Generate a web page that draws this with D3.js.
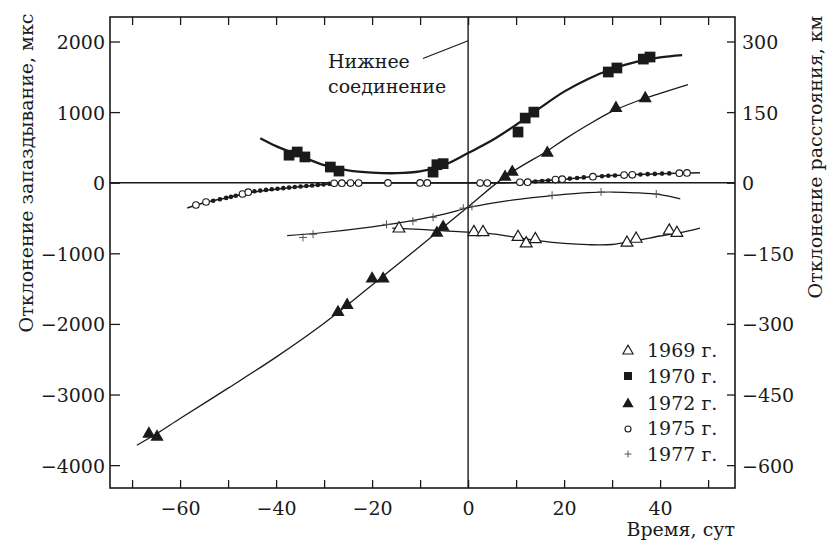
<!DOCTYPE html>
<html><head><meta charset="utf-8">
<script src="https://cdn.jsdelivr.net/npm/d3@7/dist/d3.min.js"></script>
<style>
body{margin:0;background:#fff;}
svg{display:block;}
text{font-family:"DejaVu Serif","Liberation Serif",serif;fill:#1a1a1a;}
</style></head>
<body><svg id="c" width="827" height="540"></svg>
<script>
// ---------- data ----------
const xTicks = [-70,-60,-50,-40,-30,-20,-10,0,10,20,30,40,50];
const xTickLabels = [-60,-40,-20,0,20,40];
const yLeftTicks = [-4000,-3000,-2000,-1000,0,1000,2000];
const yRightTicks = [-600,-450,-300,-150,0,150,300];
const years = ["1969 г.","1970 г.","1972 г.","1975 г.","1977 г."];

const p1969x = [-14.4,1.2,3.1,10.4,12.1,14.0,33.1,35.0,41.9,43.5];
const p1969y = [-650,-700,-700,-770,-860,-800,-850,-795,-680,-713];
const c1969x = [-15.8,-10,-5,0,5,10,15,20,25,30,35,40,45,48.3];
const c1969y = [-642,-662,-682,-700,-725,-775,-825,-860,-878,-875,-820,-755,-695,-642];

const p1970x = [-37.3,-35.6,-34.0,-28.7,-26.9,-7.3,-6.5,-5.2,10.4,11.9,13.7,29.2,31.0,36.5,37.9];
const p1970y = [390,435,365,222,165,150,255,270,718,915,1000,1568,1625,1751,1780];
const c1970x = [-43.3,-40,-35,-30,-25,-20,-15,-10,-5,0,5,10,15,20,25,30,35,40,44.6];
const c1970y = [630,518,380,250,175,143,135,160,250,420,600,820,1060,1290,1470,1610,1710,1775,1808];

const p1972x = [-66.5,-64.8,-27.1,-25.2,-20.0,-17.7,-6.5,-5.2,7.7,9.2,16.5,30.8,36.9];
const p1972y = [-3557,-3600,-1835,-1735,-1360,-1360,-713,-627,81,152,421,1057,1195];
const c1972x = [-69,-65,-60,-50,-40,-30,-20,-10,0,8,16.5,20,25,30,35,40,45.8];
const c1972y = [-3718,-3560,-3340,-2910,-2470,-1990,-1450,-900,-340,100,450,610,820,1010,1150,1265,1390];

const p1975x = [-56.7,-54.6,-47.0,-45.8,-27.9,-26.3,-24.5,-22.8,-16.7,-10.0,-8.5,2.5,4.0,10.8,12.4,18.2,19.6,26.0,32.5,34.2,44.0,45.6];
const p1975y = [-316,-273,-160,-134,-8,-6,-5,-5,-3,-3,-3,-5,-5,5,8,45,50,85,108,112,135,138];
const d1975x = [-53.1,-51.7,-50.4,-49.4,-48.4,-44.5,-43.3,-42.1,-40.9,-39.7,-38.5,-37.3,-36.1,-34.9,-33.7,-32.5,-31.3,-30.1,-28.9,14.0,15.4,16.7,21.2,22.7,24.1,27.9,29.2,30.6,35.9,37.4,38.9,40.4,41.9];
const d1975y = [-255,-235,-215,-200,-185,-122,-112,-102,-93,-85,-77,-69,-61,-53,-46,-39,-31,-24,-16,18,25,32,58,66,75,92,98,103,116,121,125,129,132];
const c1975x = [-58.5,-55,-50,-45,-40,-35,-30,-27,-20,-10,0,5,10,15,20,25,30,35,40,45,48.3];
const c1975y = [-358,-285,-210,-135,-92,-58,-24,-6,-3,-3,-5,-4,4,28,50,80,101,115,127,137,140];

const p1977x = [-34.4,-32.3,-17.0,-11.5,-7.3,-1.0,0.8,17.5,27.7,39.2];
const p1977y = [-775,-730,-590,-545,-490,-360,-335,-178,-131,-160];
const c1977x = [-37.7,-30,-20,-15,-10,-5,0,5,10,15,20,25,30,35,40,44.2];
const c1977y = [-750,-705,-625,-575,-515,-445,-355,-290,-240,-200,-165,-140,-132,-143,-170,-230];

const noteLines = ["Нижнее","соединение"];
const noteX = [-9.4,0];
const noteY = [1760,2010];

// ---------- layout ----------
const L=110,R=735,T=17,B=488;
const ink="#1a1a1a";
const FS=19;
const svg=d3.select("#c");
const x=d3.scaleLinear().domain([-74.6,55.6]).range([L,R]);
const y=d3.scaleLinear().domain([-4324,2347]).range([B,T]);
const y2=d3.scaleLinear().domain([-4324*0.15,2347*0.15]).range([B,T]);

const zip=(a,b)=>a.map((v,i)=>[v,b[i]]);

// frame
svg.append("rect").attr("x",L).attr("y",T).attr("width",R-L).attr("height",B-T)
  .attr("fill","none").attr("stroke",ink).attr("stroke-width",1.6);

// axes with inward ticks
function styleAxis(g){g.select(".domain").remove();g.selectAll(".tick line").attr("stroke",ink).attr("stroke-width",1.3);}
function styleText(g){g.selectAll(".tick text").attr("dy",0).attr("font-size",FS).attr("font-family","DejaVu Serif, Liberation Serif, serif").attr("fill",ink);}
const fmt=d3.format("d");
const gB=svg.append("g").attr("transform",`translate(0,${B})`)
  .call(d3.axisBottom(x).tickValues(xTicks).tickSize(-8).tickFormat(d=>xTickLabels.includes(d)?fmt(d):""));
styleAxis(gB); styleText(gB);
gB.selectAll(".tick text").attr("y",27);
const gT=svg.append("g").attr("transform",`translate(0,${T})`)
  .call(d3.axisTop(x).tickValues(xTicks).tickSize(-8).tickFormat(""));
styleAxis(gT);
const gL=svg.append("g").attr("transform",`translate(${L},0)`)
  .call(d3.axisLeft(y).tickValues(yLeftTicks).tickSize(-10).tickFormat(fmt));
styleAxis(gL); styleText(gL);
gL.selectAll(".tick text").attr("x",-5).attr("y",7);
const gR=svg.append("g").attr("transform",`translate(${R},0)`)
  .call(d3.axisRight(y2).tickValues(yRightTicks).tickSize(-8).tickFormat(fmt));
styleAxis(gR); styleText(gR);
gR.selectAll(".tick text").attr("x",7).attr("y",7);

// zero lines
svg.append("line").attr("x1",L).attr("x2",R).attr("y1",y(0)).attr("y2",y(0)).attr("stroke",ink).attr("stroke-width",1.4);
svg.append("line").attr("x1",x(0)).attr("x2",x(0)).attr("y1",T).attr("y2",B).attr("stroke",ink).attr("stroke-width",1.4);

// axis titles
svg.append("text").attr("transform",`translate(33,173) rotate(-90)`).attr("text-anchor","middle")
  .attr("font-size",FS).text("Отклонение запаздывание, мкс");
svg.append("text").attr("transform",`translate(822,157) rotate(-90)`).attr("text-anchor","middle")
  .attr("font-size",FS).text("Отклонение расстояния, км");
svg.append("text").attr("x",R).attr("y",536).attr("text-anchor","end").attr("font-size",FS).text("Время, сут");

// curves
const line=d3.line().x(d=>x(d[0])).y(d=>y(d[1])).curve(d3.curveCatmullRom.alpha(0.5));
function curve(xs,ys,w){svg.append("path").attr("d",line(zip(xs,ys))).attr("fill","none").attr("stroke",ink).attr("stroke-width",w);}
curve(c1969x,c1969y,1.3);
curve(c1977x,c1977y,1.2);
curve(c1975x,c1975y,1.5);
curve(c1972x,c1972y,1.3);
curve(c1970x,c1970y,2.3);

// markers
const sym={
  tri:(s)=>d3.symbol().type(d3.symbolTriangle).size(s)(),
  sq:(s)=>d3.symbol().type(d3.symbolSquare).size(s)()
};
function markers(xs,ys,kind){
  const g=svg.append("g");
  zip(xs,ys).forEach(([a,b])=>{
    const cx=x(a),cy=y(b);
    if(kind==="otri") g.append("path").attr("d",sym.tri(60)).attr("transform",`translate(${cx},${cy})`).attr("fill","#fff").attr("stroke",ink).attr("stroke-width",1.2);
    if(kind==="ftri") g.append("path").attr("d",sym.tri(75)).attr("transform",`translate(${cx},${cy})`).attr("fill",ink);
    if(kind==="sq") g.append("path").attr("d",sym.sq(115)).attr("transform",`translate(${cx},${cy})`).attr("fill",ink);
    if(kind==="oc") g.append("circle").attr("cx",cx).attr("cy",cy).attr("r",3.3).attr("fill","#fff").attr("stroke",ink).attr("stroke-width",1.1);
    if(kind==="dot") g.append("circle").attr("cx",cx).attr("cy",cy).attr("r",2.3).attr("fill",ink);
    if(kind==="plus") g.append("path").attr("d",`M${cx-4},${cy}H${cx+4}M${cx},${cy-4}V${cy+4}`).attr("stroke","#555").attr("stroke-width",1);
  });
}
markers(p1969x,p1969y,"otri");
markers(p1977x,p1977y,"plus");
markers(d1975x,d1975y,"dot");
markers(p1975x,p1975y,"oc");
markers(p1972x,p1972y,"ftri");
markers(p1970x,p1970y,"sq");

// annotation
svg.append("line").attr("x1",x(noteX[0])).attr("y1",y(noteY[0])).attr("x2",x(noteX[1])).attr("y2",y(noteY[1]))
  .attr("stroke",ink).attr("stroke-width",1.2);
noteLines.forEach((t,i)=>svg.append("text").attr("x",328).attr("y",68+i*25).attr("font-size",FS).text(t));

// legend
const legY=[350,376,403,428,454];
const kinds=["otri","sq","ftri","oc","plus"];
kinds.forEach((k,i)=>{
  const cx=628,cy=legY[i];
  if(k==="otri") svg.append("path").attr("d",sym.tri(45)).attr("transform",`translate(${cx},${cy+1})`).attr("fill","#fff").attr("stroke",ink).attr("stroke-width",1.1);
  if(k==="ftri") svg.append("path").attr("d",sym.tri(55)).attr("transform",`translate(${cx},${cy+1})`).attr("fill",ink);
  if(k==="sq") svg.append("path").attr("d",sym.sq(64)).attr("transform",`translate(${cx},${cy})`).attr("fill",ink);
  if(k==="oc") svg.append("circle").attr("cx",cx).attr("cy",cy+1).attr("r",3).attr("fill","#fff").attr("stroke",ink).attr("stroke-width",1.1);
  if(k==="plus") svg.append("path").attr("d",`M${cx-3.5},${cy}H${cx+3.5}M${cx},${cy-3.5}V${cy+3.5}`).attr("stroke","#555").attr("stroke-width",1);
  svg.append("text").attr("x",647).attr("y",cy+7).attr("font-size",FS).text(years[i]);
});
</script></body></html>
